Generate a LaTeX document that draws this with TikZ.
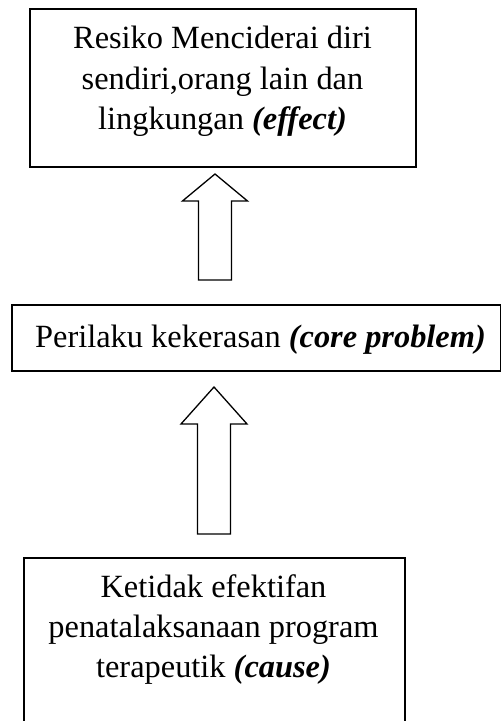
\documentclass[tikz,border=0pt]{standalone}
\usepackage{fontspec}
\setmainfont{Liberation Serif}
\begin{document}
\begin{tikzpicture}[x=1pt,y=1pt,
  box/.style={draw=black,line width=1.3pt,inner sep=0pt,fill=white},
  label/.style={inner sep=0pt,align=center,font=\fontsize{32.4}{40.5}\selectfont},
  blockarrow/.style={draw=black,line width=1.3pt,fill=white,line join=miter}]
\useasboundingbox (0,0) rectangle (501,721);
\clip (0,0) rectangle (501,721);
% boxes
\node[box,minimum width=386pt,minimum height=158pt] (effect) at (223,633) {};
\node[box,minimum width=489pt,minimum height=66pt] (core) at (256.5,383) {};
\node[box,minimum width=381pt,minimum height=200pt] (cause) at (214.5,63) {};
% texts
\node[label,anchor=base] (effecttxt) at (222.5,591) {Resiko Menciderai diri\\sendiri,orang lain dan\\lingkungan \textbf{\textit{(effect)}}};
\node[label,anchor=base] (coretxt) at (260.5,373) {Perilaku kekerasan \textbf{\textit{(core problem)}}};
\node[label,anchor=base] (causetxt) at (213.5,43) {Ketidak efektifan\\penatalaksanaan program\\terapeutik \textbf{\textit{(cause)}}};
% block arrows
\coordinate (a1tip) at (215,547);
\coordinate (a2tip) at (214,334);
\draw[blockarrow] (a1tip) -- ++(-32.5,-27) -- ++(16,0) -- ++(0,-79) -- ++(33,0) -- ++(0,79) -- ++(16,0) -- cycle;
\draw[blockarrow] (a2tip) -- ++(-33,-37) -- ++(16.5,0) -- ++(0,-110) -- ++(33,0) -- ++(0,110) -- ++(16.5,0) -- cycle;
\end{tikzpicture}
\end{document}
